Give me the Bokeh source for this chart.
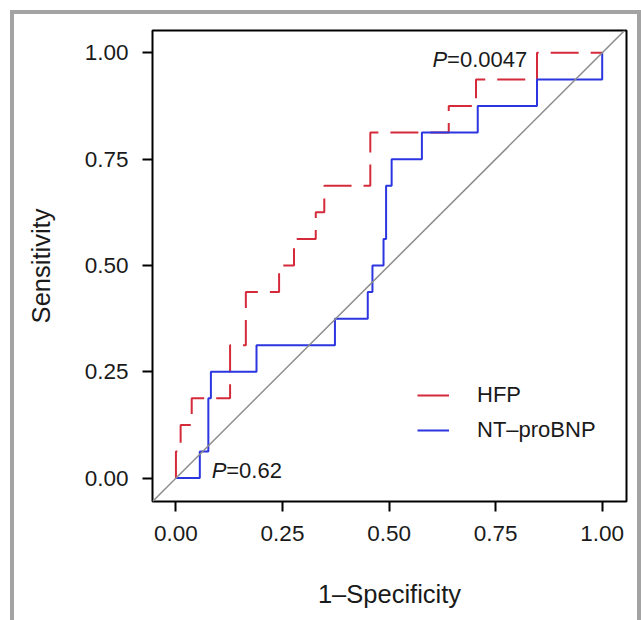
from bokeh.plotting import figure
from bokeh.models import (Slope, Legend, LegendItem, FixedTicker,
                          Range1d, PrintfTickFormatter)
from bokeh.core.properties import value
from bokeh.embed import file_html
from bokeh.resources import INLINE

# ROC corner points (step "after": horizontal first, then vertical)
hfp_fpr = [0.0, 0.0, 0.011, 0.037, 0.127, 0.164, 0.242, 0.277, 0.328, 0.348,
           0.456, 0.640, 0.704, 0.847, 1.0]
hfp_tpr = [0.0, 0.0625, 0.125, 0.1875, 0.3125, 0.4375, 0.5, 0.5625, 0.625,
           0.6875, 0.8125, 0.875, 0.9375, 1.0, 1.0]

bnp_fpr = [0.0, 0.056, 0.076, 0.082, 0.189, 0.373, 0.450, 0.461, 0.487, 0.493,
           0.506, 0.577, 0.708, 0.847, 1.0]
bnp_tpr = [0.0, 0.0625, 0.1875, 0.25, 0.3125, 0.375, 0.4375, 0.5, 0.5625,
           0.6875, 0.75, 0.8125, 0.875, 0.9375, 1.0]

ticks = [0.0, 0.25, 0.5, 0.75, 1.0]
series_names = ["HFP", "NT\u2013proBNP"]
p_values = ["0.0047", "0.62"]

RED = "#d42a3a"
BLUE = "#2b35e0"
GREY = "#a3a3a3"
FONT = "Liberation Sans"
TXT = "#1a1a1a"

bar = f"linear-gradient({GREY},{GREY})"
page_bg = (f"{bar} 10px 10px / 4px 700px no-repeat, "
           f"{bar} 10px 10px / 640px 4px no-repeat, "
           f"{bar} 637px 10px / 4px 700px no-repeat, white")

p = figure(width=641, height=620, output_backend="svg", toolbar_location=None,
           x_range=Range1d(-0.055, 1.057), y_range=Range1d(-0.055, 1.0525),
           min_border_left=152, min_border_right=15, min_border_top=30,
           min_border_bottom=119)
p.styles = {"background": page_bg}
p.grid.visible = False
p.outline_line_color = "black"
p.outline_line_width = 2
p.background_fill_color = "white"
p.border_fill_alpha = 0

for ax in (p.xaxis[0], p.yaxis[0]):
    ax.ticker = FixedTicker(ticks=ticks)
    ax.formatter = PrintfTickFormatter(format="%.2f")
    ax.axis_line_color = None
    ax.major_tick_line_color = "black"
    ax.major_tick_line_width = 2
    ax.major_tick_out = 10
    ax.major_tick_in = 0
    ax.minor_tick_line_color = None
    ax.major_label_text_font = FONT
    ax.major_label_text_font_size = "22.5px"
    ax.major_label_text_color = TXT
    ax.axis_label_text_font = FONT
    ax.axis_label_text_font_size = "25.5px"
    ax.axis_label_text_font_style = "normal"
    ax.axis_label_text_color = TXT

p.xaxis.axis_label = "1\u2013Specificity"
p.yaxis.axis_label = "Sensitivity"
p.xaxis.major_label_standoff = 14
p.yaxis.major_label_standoff = 14
p.xaxis.axis_label_standoff = 36
p.yaxis.axis_label_standoff = 27

# chance diagonal
p.add_layout(Slope(gradient=1, y_intercept=0, line_color="#8c8c8c", line_width=1.5))

p.step(hfp_fpr, hfp_tpr, mode="after", line_color=RED, line_width=2,
       line_dash="28 12")
p.step(bnp_fpr, bnp_tpr, mode="after", line_color=BLUE, line_width=2)

# legend (solid swatches)
nan = float("nan")
r_leg1 = p.line([nan], [nan], line_color=RED, line_width=2)
r_leg2 = p.line([nan], [nan], line_color=BLUE, line_width=2)
legend = Legend(items=[LegendItem(label=series_names[0], renderers=[r_leg1]),
                       LegendItem(label=series_names[1], renderers=[r_leg2])],
                location=(265, 58), border_line_color=None,
                background_fill_alpha=0, padding=0, margin=0, spacing=9,
                glyph_width=32, glyph_height=24, label_height=24,
                label_standoff=28, label_text_font=FONT,
                label_text_font_size="22px", label_text_color=TXT)
p.add_layout(legend, "center")

# P-value annotations
lab_x = [0.602, 0.084]
lab_y = [0.985, 0.019]
p.text(x=lab_x, y=lab_y, text=["P", "P"], text_font=value(FONT),
       text_font_style="italic", text_font_size="22px", text_color=TXT,
       text_align="left", text_baseline="middle")
p.text(x=lab_x, y=lab_y, text=["=" + v for v in p_values], text_font=value(FONT),
       text_font_size="22px", text_color=TXT, text_align="left",
       text_baseline="middle", x_offset=14.5)

open("out.html", "w").write(file_html(p, INLINE))
